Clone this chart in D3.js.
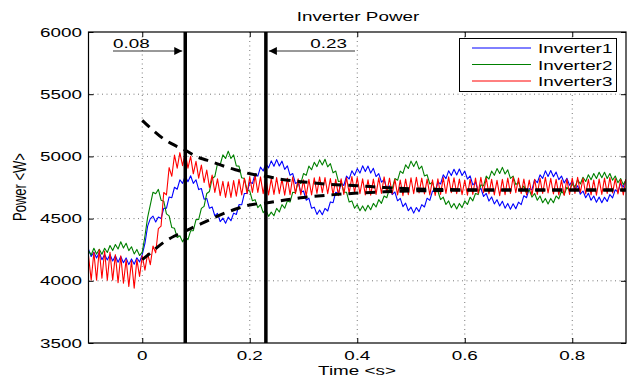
<!DOCTYPE html>
<html><head><meta charset="utf-8">
<script src="https://cdn.jsdelivr.net/npm/d3@7"></script>
<style>body{margin:0;background:#fff}svg{display:block}text{font-family:"Liberation Sans",Arial,sans-serif;fill:#000}</style>
</head><body><svg id="c" width="633" height="379"></svg>
<script>
// sample times: -0.1 .. 0.9 every 0.005 s
const tStart = -0.1, tStep = 0.005;
const seriesNames = ["Inverter1","Inverter2","Inverter3"];
const seriesColors = ["#0000ff","#008000","#ff0000"];
const inverter1 = [
4255,4195,4230,4183,4228,4170,4212,4168,4211,4159,
4202,4149,4195,4145,4184,4130,4176,4133,4185,4151,
4210,4300,4440,4500,4520,4473,4512,4501,4582,4583,
4674,4668,4752,4736,4812,4783,4842,4796,4844,4783,
4812,4733,4742,4656,4662,4583,4594,4523,4542,4476,
4504,4463,4512,4483,4544,4533,4612,4611,4702,4703,
4794,4783,4862,4841,4914,4883,4942,4908,4964,4921,
4974,4923,4962,4896,4924,4848,4862,4783,4794,4711,
4722,4648,4664,4583,4592,4534,4569,4531,4582,4561,
4634,4628,4712,4703,4784,4766,4842,4818,4884,4848,
4902,4866,4924,4878,4922,4866,4904,4838,4862,4793,
4814,4741,4762,4693,4714,4643,4662,4596,4624,4563,
4592,4544,4589,4556,4612,4593,4664,4646,4722,4713,
4794,4778,4852,4821,4884,4846,4897,4851,4899,4846,
4882,4818,4844,4771,4792,4723,4744,4678,4702,4641,
4674,4618,4652,4601,4639,4584,4622,4576,4619,4579,
4632,4613,4684,4668,4742,4731,4814,4788,4852,4823,
4884,4839,4887,4836,4874,4813,4842,4786,4824,4768,
4802,4738,4764,4696,4722,4668,4704,4648,4682,4631,
4674,4628,4672,4638,4694,4666,4732,4713,4784,4753,
4812];
const inverter2 = [
4242,4208,4262,4215,4254,4213,4262,4228,4284,4243,
4292,4256,4314,4263,4302,4243,4274,4216,4252,4203,
4230,4360,4510,4610,4712,4700,4735,4648,4640,4538,
4522,4428,4422,4348,4362,4313,4352,4331,4402,4403,
4492,4493,4582,4598,4702,4718,4822,4838,4942,4933,
5012,4983,5042,4983,5012,4923,4922,4828,4822,4728,
4722,4643,4652,4588,4612,4548,4572,4518,4552,4523,
4582,4553,4612,4583,4642,4633,4712,4708,4792,4783,
4862,4848,4922,4893,4952,4918,4972,4931,4977,4916,
4942,4868,4882,4798,4802,4713,4712,4633,4642,4583,
4612,4563,4602,4561,4607,4571,4622,4593,4652,4623,
4682,4668,4742,4738,4822,4808,4882,4863,4932,4903,
4962,4918,4962,4898,4922,4843,4852,4778,4792,4713,
4722,4653,4672,4613,4642,4588,4622,4578,4622,4588,
4642,4613,4672,4643,4702,4693,4772,4763,4842,4818,
4882,4848,4902,4863,4912,4858,4892,4823,4842,4773,
4792,4733,4762,4703,4732,4673,4702,4648,4682,4628,
4662,4618,4662,4628,4682,4658,4722,4693,4752,4723,
4782,4753,4812,4778,4832,4798,4852,4813,4862,4823,
4872,4828,4872,4823,4862,4808,4842,4788,4822,4773,
4812];
const inverter3 = [
4200,4005,4230,4005,4250,4020,4240,4005,4230,4005,
4210,3985,4200,3980,4170,3955,4160,3940,4170,4035,
4200,4085,4220,4130,4280,4225,4420,4440,4710,4690,
4910,4840,5010,4905,5030,4925,5030,4905,5000,4860,
4960,4825,4930,4790,4890,4750,4850,4710,4820,4685,
4800,4670,4795,4670,4805,4680,4815,4690,4825,4700,
4835,4710,4845,4710,4835,4700,4825,4690,4822,4695,
4830,4700,4818,4688,4825,4692,4835,4700,4820,4690,
4812,4680,4815,4690,4828,4702,4835,4708,4830,4700,
4822,4692,4815,4685,4820,4695,4830,4705,4838,4710,
4830,4700,4820,4690,4812,4688,4818,4695,4828,4702,
4835,4708,4825,4698,4815,4690,4810,4685,4818,4692,
4828,4700,4832,4706,4825,4698,4818,4690,4812,4686,
4820,4695,4830,4702,4836,4708,4828,4700,4818,4692,
4810,4688,4815,4694,4826,4703,4832,4708,4825,4698,
4815,4690,4808,4685,4816,4693,4826,4702,4834,4708,
4826,4700,4818,4692,4810,4688,4816,4694,4825,4702,
4832,4706,4824,4698,4815,4690,4810,4686,4818,4694,
4826,4702,4832,4708,4824,4698,4815,4690,4810,4688,
4818,4695,4826,4703,4830,4706,4822,4698,4814,4690,
4818];
// dashed envelope
const envTime  = [0,0.02,0.04,0.06,0.08,0.1,0.12,0.14,0.16,0.18,0.2,0.23,0.26,0.3,0.35,0.4,0.45,0.5,0.6,0.7,0.8,0.9];
const envUpper = [5290,5210,5140,5090,5050,5000,4970,4940,4910,4885,4860,4840,4815,4795,4775,4765,4750,4740,4732,4730,4730,4730];
const envLower = [4170,4240,4310,4360,4400,4440,4480,4520,4555,4585,4610,4625,4645,4670,4690,4705,4715,4722,4728,4730,4730,4730];
const markTimes = [0.08, 0.23];
const markLabels = ["0.08", "0.23"];
const xTicks = [0,0.2,0.4,0.6,0.8];
const xTickLabels = ["0","0.2","0.4","0.6","0.8"];
const yTicks = [3500,4000,4500,5000,5500,6000];
const yTickLabels = ["3500","4000","4500","5000","5500","6000"];

const SX = 1.45; // horizontal stretch of the original figure's text
const FS = 13;
const svg = d3.select("#c");
const L=88.5, R=626, T=32, B=343;
const x = d3.scaleLinear().domain([-0.1,0.9]).range([L,R]);
const y = d3.scaleLinear().domain([3500,6000]).range([B,T]);

function label(px, py, str, anchor){
  svg.append("text").attr("transform",`translate(${px},${py}) scale(${SX},1)`)
    .attr("text-anchor",anchor||"start").attr("font-size",FS).text(str);
}

// grid
const grid = svg.append("g").attr("stroke","#555").attr("stroke-width",0.8).attr("stroke-dasharray","1,3.5");
grid.selectAll(".gx").data(xTicks).join("line").attr("x1",d=>x(d)).attr("x2",d=>x(d)).attr("y1",T).attr("y2",B);
grid.selectAll(".gy").data(yTicks.slice(1,-1)).join("line").attr("y1",d=>y(d)).attr("y2",d=>y(d)).attr("x1",L).attr("x2",R);

const plot = svg.append("g");
plot.append("clipPath").attr("id","clip").append("rect").attr("x",L).attr("y",T).attr("width",R-L).attr("height",B-T);
const g = plot.append("g").attr("clip-path","url(#clip)");
const line = d3.line().x((d,i)=>x(tStart+i*tStep)).y(d=>y(d));
[inverter1,inverter2,inverter3].forEach((s,k)=>{
  g.append("path").attr("d",line(s)).attr("fill","none").attr("stroke",seriesColors[k]).attr("stroke-width",1.1).attr("stroke-linejoin","round");
});
const eline = d3.line().x((d,i)=>x(envTime[i])).y(d=>y(d)).curve(d3.curveMonotoneX);
[envUpper,envLower].forEach(s=>{
  g.append("path").attr("d",eline(s)).attr("fill","none").attr("stroke","#000").attr("stroke-width",3).attr("stroke-dasharray","10,7");
});
markTimes.forEach(t=>{
  g.append("line").attr("x1",x(t)).attr("x2",x(t)).attr("y1",T).attr("y2",B).attr("stroke","#000").attr("stroke-width",3.5);
});

// axes box with inward ticks (labels drawn separately)
const ax = svg.append("g");
ax.append("g").attr("transform",`translate(0,${B})`).call(d3.axisBottom(x).tickValues(xTicks).tickSize(-5).tickFormat("")).call(s=>s.select(".domain").remove());
ax.append("g").attr("transform",`translate(0,${T})`).call(d3.axisTop(x).tickValues(xTicks).tickSize(-5).tickFormat("")).call(s=>s.select(".domain").remove());
ax.append("g").attr("transform",`translate(${L},0)`).call(d3.axisLeft(y).tickValues(yTicks).tickSize(-5).tickFormat("")).call(s=>s.select(".domain").remove());
ax.append("g").attr("transform",`translate(${R},0)`).call(d3.axisRight(y).tickValues(yTicks).tickSize(-5).tickFormat("")).call(s=>s.select(".domain").remove());
svg.append("rect").attr("x",L).attr("y",T).attr("width",R-L).attr("height",B-T).attr("fill","none").attr("stroke","#000").attr("stroke-width",1.2);
xTicks.forEach((v,i)=>label(x(v), 360, xTickLabels[i], "middle"));
yTicks.forEach((v,i)=>label(82, y(v)+4.5, yTickLabels[i], "end"));

// annotations
const defs = svg.append("defs");
defs.append("marker").attr("id","ah").attr("viewBox","0 0 10 10").attr("refX",10).attr("refY",5)
  .attr("markerWidth",16).attr("markerHeight",8).attr("markerUnits","userSpaceOnUse").attr("orient","auto")
  .append("path").attr("d","M0,0L10,5L0,10z").attr("fill","#000");
const ay = 51;
svg.append("line").attr("x1",113).attr("x2",x(markTimes[0])-3).attr("y1",ay).attr("y2",ay).attr("stroke","#333").attr("stroke-width",1).attr("marker-end","url(#ah)");
label(113, 48, markLabels[0], "start");
svg.append("line").attr("x1",355).attr("x2",x(markTimes[1])+3).attr("y1",ay).attr("y2",ay).attr("stroke","#333").attr("stroke-width",1).attr("marker-end","url(#ah)");
label(347, 48, markLabels[1], "end");

// legend
const lg = svg.append("g");
lg.append("rect").attr("x",459.5).attr("y",38.5).attr("width",157).attr("height",53).attr("fill","#fff").attr("stroke","#000").attr("stroke-width",1);
seriesNames.forEach((n,k)=>{
  const yy = 48 + k*16.5;
  lg.append("line").attr("x1",472).attr("x2",531).attr("y1",yy).attr("y2",yy).attr("stroke",seriesColors[k]).attr("stroke-width",1);
  label(538, yy+5, n, "start");
});

// titles
label(358, 21, "Inverter Power", "middle");
label(357, 375, "Time <s>", "middle");
svg.append("text").attr("transform",`translate(26,187) scale(${SX},1) rotate(-90)`).attr("text-anchor","middle").attr("font-size",FS).text("Power <W>");
</script></body></html>
